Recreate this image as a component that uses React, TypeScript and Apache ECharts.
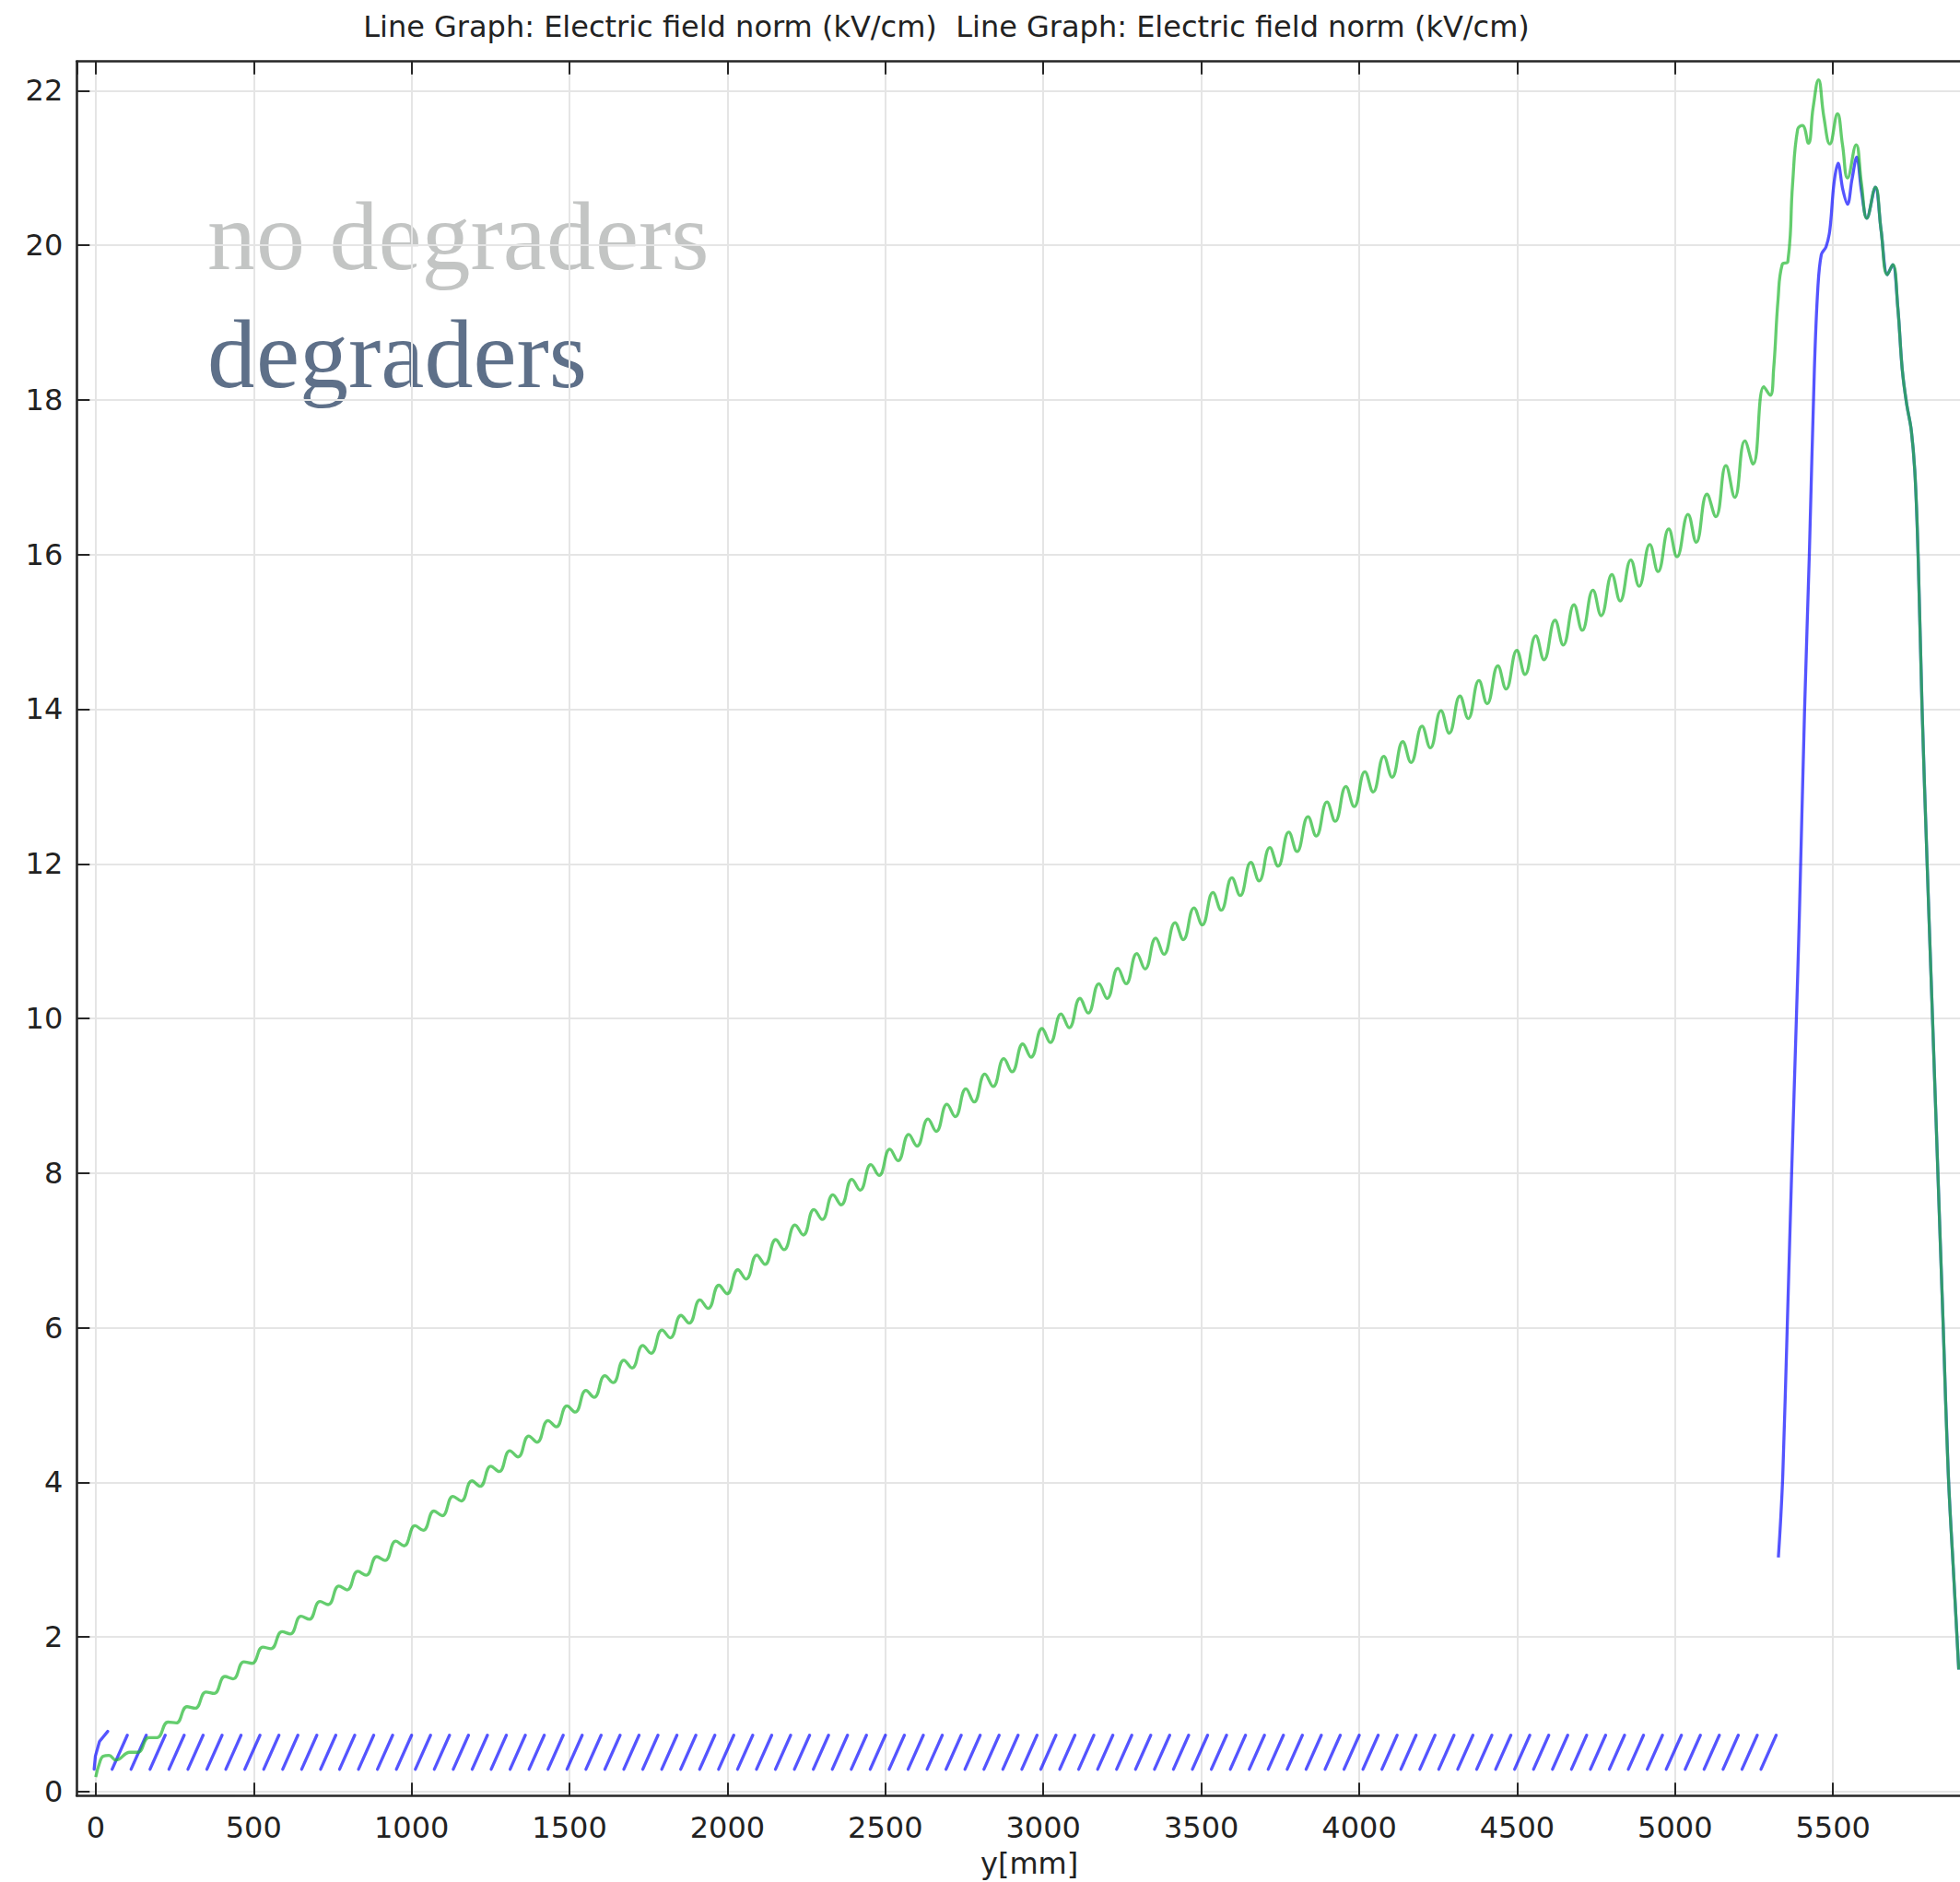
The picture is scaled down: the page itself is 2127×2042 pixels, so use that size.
import React, { useEffect, useRef } from "react";
import * as echarts from "echarts";

// ---------------- texts ----------------
const chartTitle =
  "Line Graph: Electric field norm (kV/cm)  Line Graph: Electric field norm (kV/cm)";
const xAxisName = "y[mm]";
const noDegradersLabel = "no degraders";
const degradersLabel = "degraders";

// ---------------- axes ----------------
const xRange = [-60, 5972];
const yRange = [-0.051, 22.377];
const xSplitCount = 12; // gives 500 mm steps
const ySplitCount = 11; // gives 2 kV/cm steps

// ---------------- "no degraders" (green) ----------------
// start of the ramp, then alternating crest / dip of each ring period
const greenRamp: [number, number][] = [
  [0, 0.19], [12, 0.37], [24, 0.46], [42, 0.47], [64, 0.41],
  [108, 0.51], [134, 0.51], [168, 0.70], [194, 0.70], [229, 0.90], [255, 0.89],
  [289, 1.10], [315, 1.08], [349, 1.29], [375, 1.27], [409, 1.49], [435, 1.46],
  [469, 1.68], [495, 1.66], [529, 1.87], [555, 1.85], [590, 2.07], [616, 2.04],
  [650, 2.27], [676, 2.23], [710, 2.46], [736, 2.42], [770, 2.66], [796, 2.61],
  [830, 2.85], [856, 2.80], [890, 3.04], [916, 2.99], [950, 3.24], [976, 3.18],
  [1011, 3.44], [1037, 3.38], [1071, 3.63], [1097, 3.57], [1131, 3.82], [1157, 3.76],
  [1191, 4.02], [1217, 3.95], [1251, 4.21], [1277, 4.14], [1311, 4.41], [1337, 4.33],
  [1371, 4.60], [1397, 4.52], [1432, 4.80], [1458, 4.72], [1492, 4.99], [1518, 4.91],
  [1552, 5.19], [1578, 5.10], [1612, 5.38], [1638, 5.29], [1672, 5.58], [1698, 5.48],
  [1732, 5.77], [1758, 5.67], [1793, 5.97], [1819, 5.87], [1853, 6.16], [1879, 6.06],
  [1913, 6.36], [1939, 6.25], [1973, 6.55], [1999, 6.44], [2033, 6.75], [2059, 6.63],
  [2093, 6.94], [2119, 6.82], [2153, 7.14], [2179, 7.01], [2214, 7.33], [2240, 7.20],
  [2274, 7.53], [2300, 7.40], [2334, 7.72], [2360, 7.59], [2394, 7.92], [2420, 7.78],
  [2454, 8.11], [2480, 7.97], [2514, 8.31], [2540, 8.16], [2574, 8.50], [2600, 8.35],
  [2635, 8.70], [2661, 8.54], [2695, 8.89], [2721, 8.73], [2755, 9.09], [2781, 8.92],
  [2815, 9.28], [2841, 9.12], [2875, 9.48], [2901, 9.31], [2935, 9.67], [2961, 9.50],
  [2996, 9.87], [3022, 9.69], [3056, 10.06], [3082, 9.88], [3116, 10.26], [3142, 10.07],
  [3176, 10.45], [3202, 10.26], [3236, 10.65], [3262, 10.45], [3296, 10.84], [3322, 10.64],
  [3356, 11.04], [3382, 10.83], [3417, 11.24], [3443, 11.02], [3477, 11.43], [3503, 11.21],
  [3537, 11.63], [3563, 11.40], [3597, 11.82], [3623, 11.59], [3657, 12.02], [3683, 11.78],
  [3717, 12.21], [3743, 11.97], [3777, 12.41], [3803, 12.16], [3838, 12.61], [3864, 12.36],
  [3898, 12.80], [3924, 12.55], [3958, 13.00], [3984, 12.74], [4018, 13.19], [4044, 12.93],
  [4078, 13.39], [4104, 13.12], [4138, 13.58], [4164, 13.31], [4199, 13.78], [4225, 13.50],
  [4259, 13.98], [4285, 13.69], [4319, 14.17], [4345, 13.88], [4379, 14.37], [4405, 14.07],
  [4439, 14.56], [4465, 14.26], [4499, 14.76], [4525, 14.45], [4559, 14.95], [4585, 14.64],
  [4620, 15.15], [4646, 14.83], [4680, 15.35], [4706, 15.02], [4740, 15.54], [4766, 15.21],
  [4800, 15.74], [4826, 15.40], [4860, 15.93], [4886, 15.59], [4920, 16.13], [4946, 15.78],
  [4980, 16.33], [5006, 15.97], [5041, 16.52], [5067, 16.16], [5101, 16.78], [5129, 16.49],
  [5161, 17.15], [5189, 16.74], [5221, 17.47], [5247, 17.17], [5281, 18.17], [5301, 18.06],
];
const greenPeak: [number, number][] = [
  [5312, 18.40], [5326, 19.30], [5339, 19.75], [5357, 19.79], [5372, 20.79], [5388, 21.50],
  [5403, 21.55], [5422, 21.32], [5437, 21.78], [5454, 22.14], [5471, 21.66], [5490, 21.31],
  [5514, 21.70], [5530, 21.30], [5546, 20.87], [5573, 21.30], [5590, 20.80], [5607, 20.35],
];

// ---------------- "degraders" (blue) ----------------
const bluePeak: [number, number][] = [
  [5327, 3.03], [5334, 3.50], [5341, 4.10], [5355, 6.00], [5369, 8.00], [5384, 10.00],
  [5393, 11.26], [5410, 14.00], [5425, 16.00], [5441, 18.40], [5452, 19.45], [5463, 19.88],
  [5478, 19.98], [5490, 20.20], [5503, 20.80], [5516, 21.06], [5531, 20.72], [5546, 20.53],
  [5560, 20.85], [5575, 21.14], [5590, 20.70], [5607, 20.35],
];
// both curves coincide after ~5610 mm
const sharedTail: [number, number][] = [
  [5634, 20.75], [5652, 20.20], [5672, 19.62], [5689, 19.75], [5705, 19.20], [5719, 18.40],
  [5733, 17.95], [5748, 17.60], [5760, 17.00], [5770, 15.90], [5782, 14.00], [5798, 12.00],
  [5815, 10.00], [5832, 8.00], [5849, 6.00], [5865, 4.10], [5882, 2.80], [5898, 1.58],
];
// short field segments in the gaps between degrader plates
const firstSlash: [number, number][] = [[-5, 0.29], [-1, 0.46], [12, 0.65], [38, 0.78]];
const slashTopX = [
  100, 160, 220, 280, 340, 400, 460, 520, 580, 640, 700, 760, 820, 880, 940, 1000, 1060,
  1120, 1180, 1240, 1300, 1360, 1420, 1480, 1540, 1600, 1660, 1720, 1780, 1840, 1900, 1960,
  2020, 2080, 2140, 2200, 2260, 2320, 2380, 2440, 2500, 2560, 2620, 2680, 2740, 2800, 2860,
  2920, 2980, 3040, 3100, 3160, 3220, 3280, 3340, 3400, 3460, 3520, 3580, 3640, 3700, 3760,
  3820, 3880, 3940, 4000, 4060, 4120, 4180, 4240, 4300, 4360, 4420, 4480, 4540, 4600, 4660,
  4720, 4780, 4840, 4900, 4960, 5020, 5080, 5140, 5200, 5260, 5320,
];
const slashLength = 48; // mm
const slashLow = 0.29;
const slashHigh = 0.73;

function buildSlashes(): (number | null)[][] {
  const out: (number | null)[][] = firstSlash.map((p) => [p[0], p[1]]);
  out.push([firstSlash[firstSlash.length - 1][0] + 1, null]);
  slashTopX.forEach((top) => {
    out.push([top - slashLength, slashLow]);
    out.push([top, slashHigh]);
    out.push([top + 1, null]);
  });
  return out;
}

const AXIS_COLOR = "#262626";
const GRID_COLOR = "#e5e5e5";
const BLUE = "rgba(0,0,255,0.67)";
const GREEN = "rgba(34,184,48,0.7)";
const FONT = "DejaVu Sans";
const LINE_W = 3.3;

export default function App() {
  const ref = useRef<HTMLDivElement>(null);

  useEffect(() => {
    if (!ref.current) return;
    const chart = echarts.init(ref.current, null, { renderer: "svg" });

    const xAxisBase = {
      type: "value",
      min: xRange[0],
      max: xRange[1],
      splitNumber: xSplitCount,
      axisLine: { show: true, onZero: false, lineStyle: { color: AXIS_COLOR, width: 2.6 } },
      axisTick: { show: true, inside: true, length: 14, lineStyle: { color: AXIS_COLOR, width: 2 } },
    };

    chart.setOption({
      animation: false,
      backgroundColor: "#ffffff",
      grid: {
        left: 83.3,
        top: 66.7,
        right: -24,
        bottom: 93.7,
        containLabel: false,
        outerBoundsMode: "none",
      },
      xAxis: [
        {
          ...xAxisBase,
          position: "bottom",
          name: xAxisName,
          nameLocation: "middle",
          nameGap: 58,
          nameTextStyle: { fontFamily: FONT, fontSize: 32, color: "#222" },
          axisLabel: {
            show: true,
            margin: 19,
            fontFamily: FONT,
            fontSize: 32,
            color: "#222",
            showMinLabel: false,
            showMaxLabel: false,
            formatter: (v: number) => String(v),
          },
          splitLine: {
            show: true,
            showMinLine: false,
            showMaxLine: false,
            lineStyle: { color: GRID_COLOR, width: 2 },
          },
        },
        {
          ...xAxisBase,
          position: "top",
          axisLabel: { show: false },
          splitLine: { show: false },
        },
      ],
      yAxis: {
        type: "value",
        min: yRange[0],
        max: yRange[1],
        splitNumber: ySplitCount,
        axisLine: { show: true, onZero: false, lineStyle: { color: AXIS_COLOR, width: 2.6 } },
        axisTick: { show: true, inside: true, length: 14, lineStyle: { color: AXIS_COLOR, width: 2 } },
        axisLabel: {
          show: true,
          margin: 15,
          fontFamily: FONT,
          fontSize: 32,
          color: "#222",
          showMinLabel: false,
          showMaxLabel: false,
          formatter: (v: number) => String(v),
        },
        splitLine: {
          show: true,
          showMinLine: false,
          showMaxLine: false,
          lineStyle: { color: GRID_COLOR, width: 2 },
        },
      },
      graphic: [
        {
          type: "text",
          x: 1027,
          y: 29,
          style: {
            text: chartTitle,
            font: `32px "${FONT}"`,
            fill: "#222",
            textAlign: "center",
            textVerticalAlign: "middle",
          },
        },
        {
          type: "text",
          x: 225,
          y: 256,
          style: {
            text: noDegradersLabel,
            font: '106px "Liberation Serif"',
            fill: "#c3c5c4",
            textAlign: "left",
            textVerticalAlign: "middle",
          },
        },
        {
          type: "text",
          x: 225,
          y: 384,
          style: {
            text: degradersLabel,
            font: '106px "Liberation Serif"',
            fill: "#5e7089",
            textAlign: "left",
            textVerticalAlign: "middle",
          },
        },
      ],
      series: [
        {
          name: "degraders",
          type: "line",
          xAxisIndex: 0,
          data: buildSlashes(),
          showSymbol: false,
          symbol: "none",
          smooth: false,
          connectNulls: false,
          lineStyle: { color: BLUE, width: LINE_W, cap: "round" },
          itemStyle: { color: BLUE },
          z: 2,
        },
        {
          name: "degraders",
          type: "line",
          xAxisIndex: 0,
          data: [...bluePeak, ...sharedTail],
          showSymbol: false,
          symbol: "none",
          smooth: 0.35,
          lineStyle: { color: BLUE, width: LINE_W },
          itemStyle: { color: BLUE },
          z: 2,
        },
        {
          name: "no degraders",
          type: "line",
          xAxisIndex: 0,
          data: [...greenRamp, ...greenPeak, ...sharedTail],
          showSymbol: false,
          symbol: "none",
          smooth: 0.45,
          lineStyle: { color: GREEN, width: LINE_W },
          itemStyle: { color: GREEN },
          z: 3,
        },
      ],
    });

    return () => chart.dispose();
  }, []);

  return (
    <div
      ref={ref}
      style={{ position: "absolute", left: 0, top: 0, width: 2127, height: 2042, background: "#fff" }}
    />
  );
}
